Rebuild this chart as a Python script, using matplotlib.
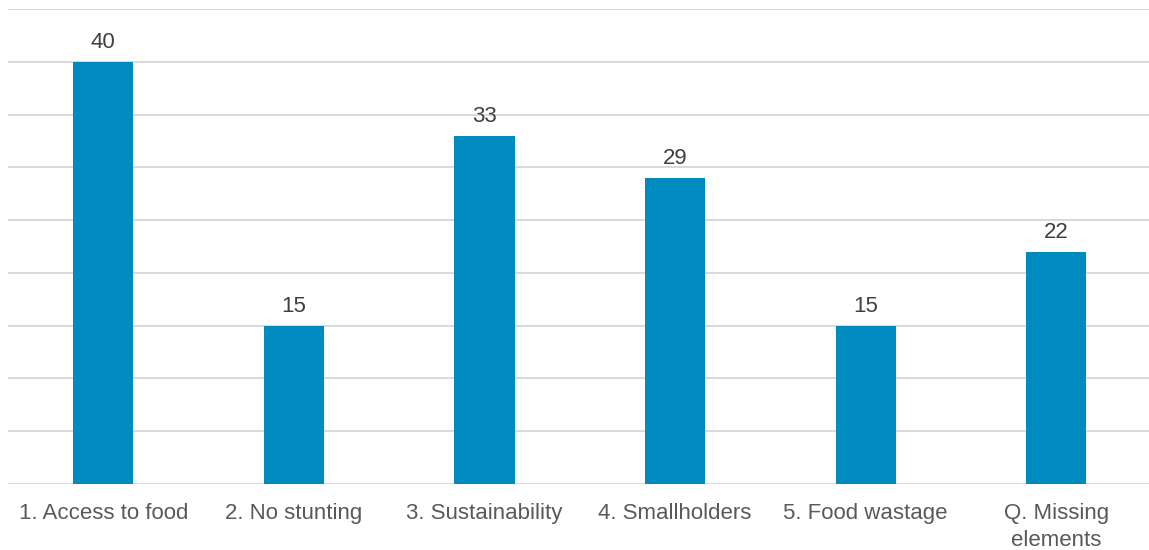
import numpy as np
import matplotlib
matplotlib.use('Agg')
import matplotlib.pyplot as plt

# ── Datos ─────────────────────────────────────────────
categorias = ['1. Access to food', '2. No stunting', '3. Sustainability',
              '4. Smallholders', '5. Food wastage', 'Q. Missing\nelements']
valores = [40, 15, 33, 29, 15, 22]

_COLOR_BARRA = '#008bc0'
_COLOR_GRID = '#d9d9d9'

plt.rcParams['font.family'] = ['Liberation Sans', 'DejaVu Sans']

fig = plt.figure(figsize=(11.49, 5.5), dpi=100)
ax = fig.add_axes([8 / 1149, 66 / 550, 1143.6 / 1149, 475 / 550])

x = np.arange(len(categorias))
ax.bar(x, valores, width=0.315, color=_COLOR_BARRA, zorder=3)

for xi, v in zip(x, valores):
    ax.annotate(str(v), (xi, v), xytext=(0, 6.5), textcoords='offset points',
                ha='center', va='bottom', fontsize=16, color='#404040')

ax.set_xlim(-0.5, len(categorias) - 0.5)
ax.set_ylim(0, 45)
ax.set_yticks(np.arange(0, 46, 5))
ax.yaxis.grid(True, color=_COLOR_GRID, lw=1.4, zorder=0)
ax.set_axisbelow(True)
ax.tick_params(axis='y', left=False, labelleft=False)
ax.tick_params(axis='x', length=0, pad=14, labelsize=16, labelcolor='#595959')
ax.set_xticks(x)
ax.set_xticklabels(categorias, linespacing=1.35)

for s in ax.spines.values():
    s.set_visible(False)

fig.savefig('out.png', dpi=100)
